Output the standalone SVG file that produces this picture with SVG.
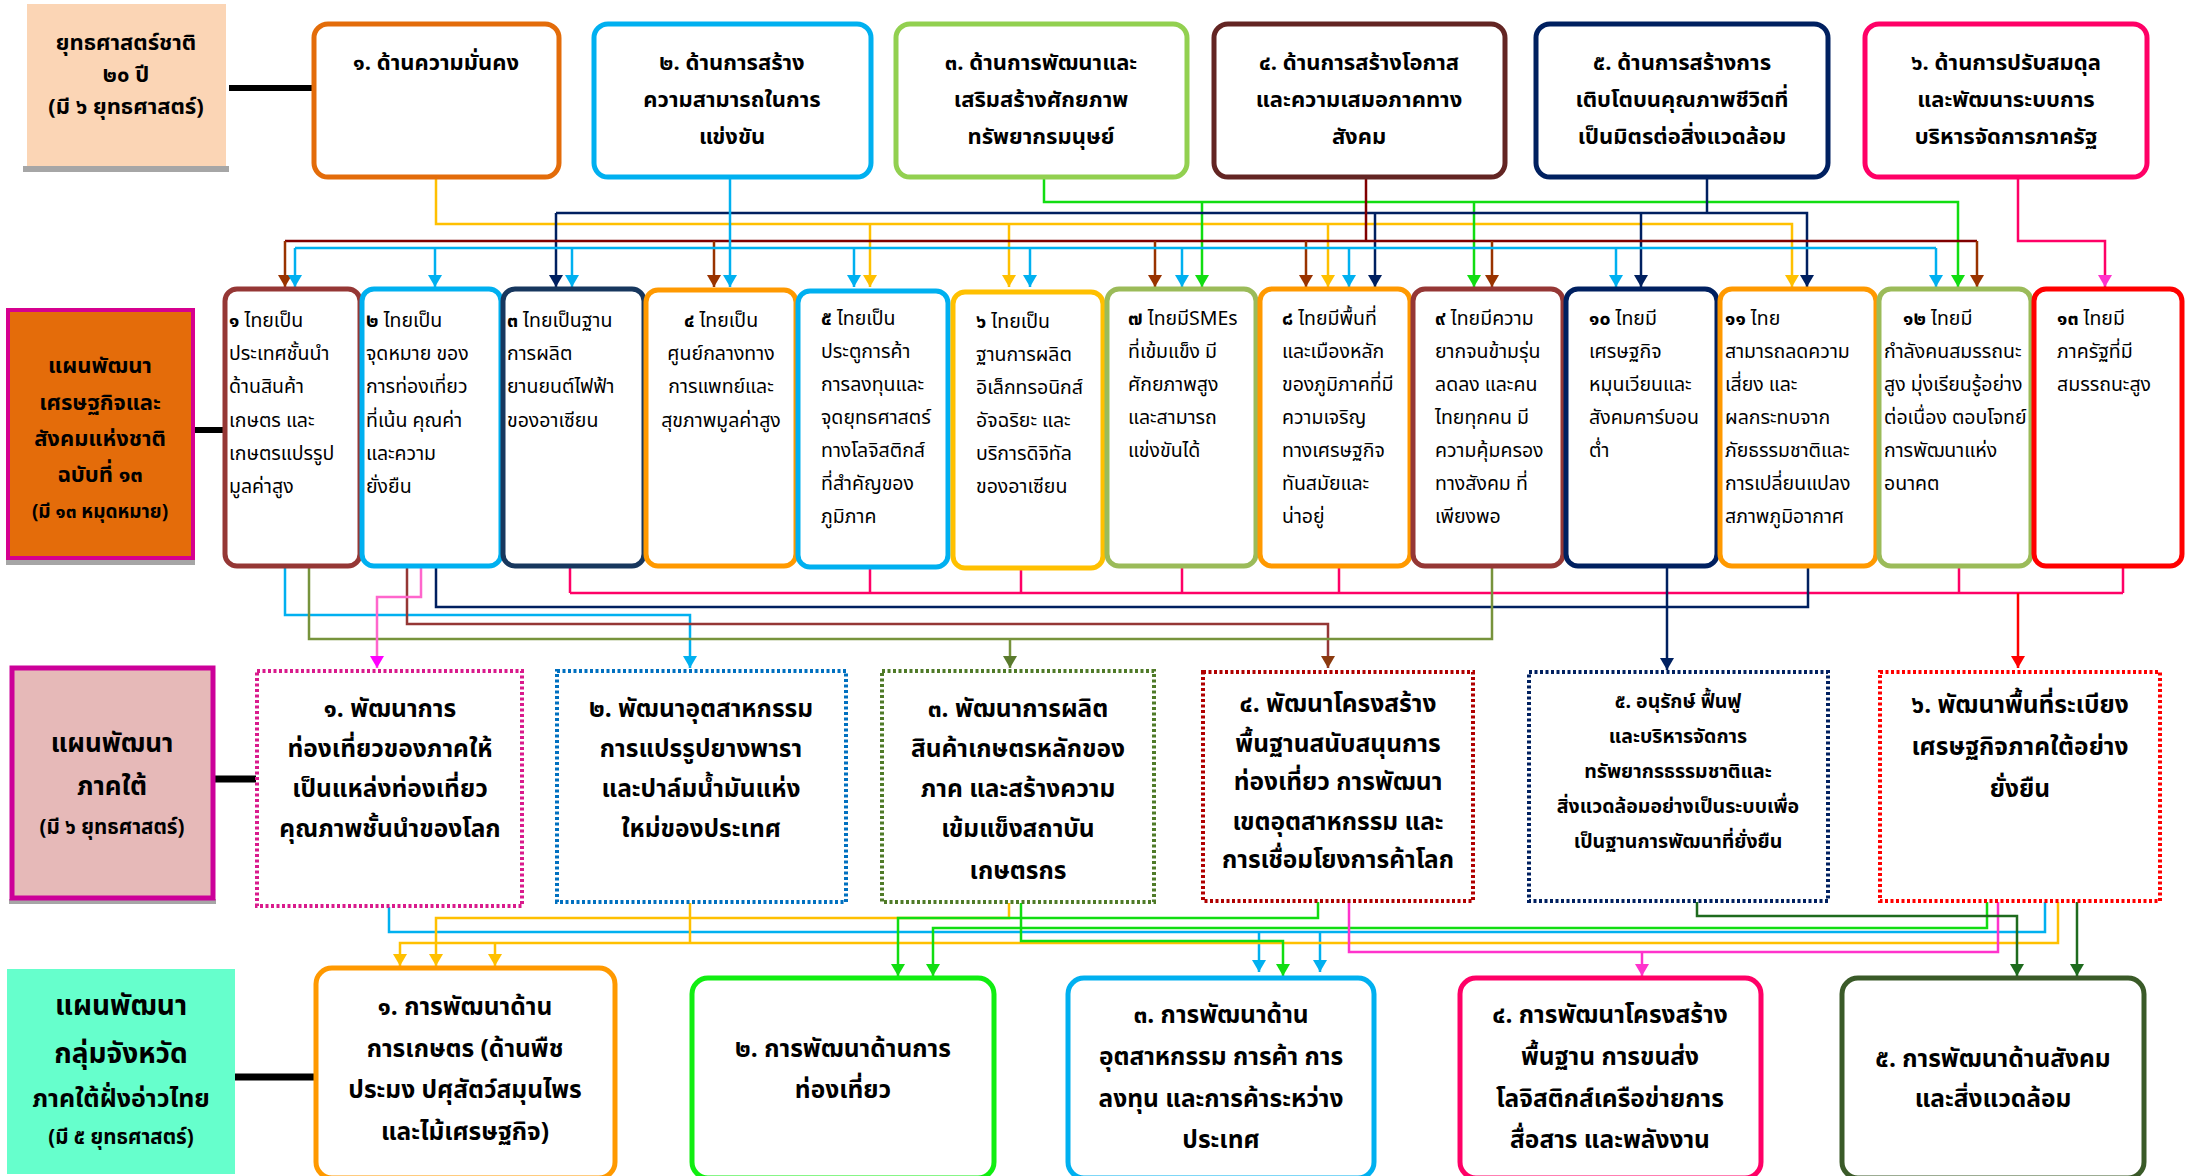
<svg xmlns="http://www.w3.org/2000/svg" width="2185" height="1176" viewBox="0 0 2185 1176">
<defs>
<style>
.f{font-family:'Noto Sans Thai','Noto Sans','DejaVu Sans',sans-serif;fill:#000}
.top{font-size:22px;font-weight:bold;text-anchor:middle}
.lab{font-size:22px;font-weight:bold;text-anchor:middle}
.lab2{font-size:26px;font-weight:bold;text-anchor:middle}
.labs{font-size:19px;font-weight:bold;text-anchor:middle}
.labs2{font-size:20.5px;font-weight:bold;text-anchor:middle}
.mid{font-size:19.5px}
.midc{font-size:19.5px;text-anchor:middle}
.r3{font-size:24.5px;font-weight:bold;text-anchor:middle}
.r3s{font-size:19.5px;font-weight:bold;text-anchor:middle}
.bot{font-size:24.5px;font-weight:bold;text-anchor:middle}
.nb{font-weight:bold}
.box{fill:#fff;stroke-width:5}
.dot{fill:#fff;stroke-width:4;stroke-dasharray:3 2.5}
.c{fill:none;stroke-width:2.5}
</style>
<marker id="aY" viewBox="0 0 12 14" markerWidth="12" markerHeight="14" refX="12" refY="7" orient="auto" markerUnits="userSpaceOnUse"><path d="M0,0L12,7L0,14z" fill="#FFC000"/></marker>
<marker id="aC" viewBox="0 0 12 14" markerWidth="12" markerHeight="14" refX="12" refY="7" orient="auto" markerUnits="userSpaceOnUse"><path d="M0,0L12,7L0,14z" fill="#00B0F0"/></marker>
<marker id="aG" viewBox="0 0 12 14" markerWidth="12" markerHeight="14" refX="12" refY="7" orient="auto" markerUnits="userSpaceOnUse"><path d="M0,0L12,7L0,14z" fill="#11DD11"/></marker>
<marker id="aN" viewBox="0 0 12 14" markerWidth="12" markerHeight="14" refX="12" refY="7" orient="auto" markerUnits="userSpaceOnUse"><path d="M0,0L12,7L0,14z" fill="#002060"/></marker>
<marker id="aB" viewBox="0 0 12 14" markerWidth="12" markerHeight="14" refX="12" refY="7" orient="auto" markerUnits="userSpaceOnUse"><path d="M0,0L12,7L0,14z" fill="#993300"/></marker>
<marker id="aP" viewBox="0 0 12 14" markerWidth="12" markerHeight="14" refX="12" refY="7" orient="auto" markerUnits="userSpaceOnUse"><path d="M0,0L12,7L0,14z" fill="#FF33CC"/></marker>
<marker id="aM" viewBox="0 0 12 14" markerWidth="12" markerHeight="14" refX="12" refY="7" orient="auto" markerUnits="userSpaceOnUse"><path d="M0,0L12,7L0,14z" fill="#FF00FF"/></marker>
<marker id="aO" viewBox="0 0 12 14" markerWidth="12" markerHeight="14" refX="12" refY="7" orient="auto" markerUnits="userSpaceOnUse"><path d="M0,0L12,7L0,14z" fill="#5A7A2E"/></marker>
<marker id="aR" viewBox="0 0 12 14" markerWidth="12" markerHeight="14" refX="12" refY="7" orient="auto" markerUnits="userSpaceOnUse"><path d="M0,0L12,7L0,14z" fill="#FF0000"/></marker>
<marker id="aD" viewBox="0 0 12 14" markerWidth="12" markerHeight="14" refX="12" refY="7" orient="auto" markerUnits="userSpaceOnUse"><path d="M0,0L12,7L0,14z" fill="#1E6B1E"/></marker>
<marker id="aBr" viewBox="0 0 12 14" markerWidth="12" markerHeight="14" refX="12" refY="7" orient="auto" markerUnits="userSpaceOnUse"><path d="M0,0L12,7L0,14z" fill="#8B3A0F"/></marker>
</defs>
<rect width="2185" height="1176" fill="#fff"/>

<!-- connectors -->
<g id="connectors">
<!-- label links -->
<path d="M229,88H314" stroke="#000" stroke-width="6" fill="none"/>
<path d="M195,430H223" stroke="#000" stroke-width="6" fill="none"/>
<path d="M214,779H256" stroke="#000" stroke-width="7" fill="none"/>
<path d="M235,1077H314" stroke="#000" stroke-width="7" fill="none"/>

<!-- top to middle -->
<g class="c" stroke="#FFC000">
<path d="M436,177V224H1792V287" marker-end="url(#aY)"/>
<path d="M870,224V287" marker-end="url(#aY)"/>
<path d="M1009,224V287" marker-end="url(#aY)"/>
<path d="M1328,224V287" marker-end="url(#aY)"/>
</g>
<g class="c" stroke="#11DD11">
<path d="M1044,177V202H1958V287" marker-end="url(#aG)"/>
<path d="M1202,202V287" marker-end="url(#aG)"/>
<path d="M1474,202V287" marker-end="url(#aG)"/>
</g>
<g class="c" stroke="#002060">
<path d="M1707,177V213"/>
<path d="M556,213H1807V287" marker-end="url(#aN)"/>
<path d="M556,213V287" marker-end="url(#aN)"/>
<path d="M1375,213V287" marker-end="url(#aN)"/>
<path d="M1641,213V287" marker-end="url(#aN)"/>
</g>
<g class="c" stroke="#800000">
<path d="M1366,177V241"/>
<path d="M285,241H1977"/>
</g>
<g class="c" stroke="#993300">
<path d="M285,241V287" marker-end="url(#aB)"/>
<path d="M714,241V287" marker-end="url(#aB)"/>
<path d="M1155,241V287" marker-end="url(#aB)"/>
<path d="M1306,241V287" marker-end="url(#aB)"/>
<path d="M1492,241V287" marker-end="url(#aB)"/>
<path d="M1977,241V287" marker-end="url(#aB)"/>
</g>
<g class="c" stroke="#00B0F0">
<path d="M730,177V287" marker-end="url(#aC)"/>
<path d="M295,248H1936"/>
<path d="M295,248V287" marker-end="url(#aC)"/>
<path d="M435,248V287" marker-end="url(#aC)"/>
<path d="M572,248V287" marker-end="url(#aC)"/>
<path d="M854,248V287" marker-end="url(#aC)"/>
<path d="M1030,248V287" marker-end="url(#aC)"/>
<path d="M1182,248V287" marker-end="url(#aC)"/>
<path d="M1349,248V287" marker-end="url(#aC)"/>
<path d="M1616,248V287" marker-end="url(#aC)"/>
<path d="M1936,248V287" marker-end="url(#aC)"/>
</g>
<path class="c" stroke="#FF0066" d="M2018,177V241H2105V287" marker-end="url(#aP)"/>

<!-- middle to third -->
<g class="c" stroke="#FF0066">
<path d="M570,593H2123"/>
<path d="M570,567V593M870,567V593M1021,567V593M1182,567V593M1339,567V593M1959,567V593M2123,567V593"/>
</g>
<path class="c" stroke="#FF0000" d="M2018,593V668" marker-end="url(#aR)"/>
<path class="c" stroke="#002060" d="M436,567V607H1808V567"/>
<path class="c" stroke="#002060" d="M1667,567V670" marker-end="url(#aN)"/>
<path class="c" stroke="#00B0F0" d="M285,567V615H690V668" marker-end="url(#aC)"/>
<path class="c" stroke="#953735" d="M407,567V624H1328V668" marker-end="url(#aBr)"/>
<path class="c" stroke="#77933C" d="M309,567V639H1492V567"/>
<path class="c" stroke="#77933C" d="M1010,639V668" marker-end="url(#aO)"/>
<path class="c" stroke="#FF66CC" d="M421,567V597H377V668" marker-end="url(#aM)"/>

<!-- third to bottom -->
<path class="c" stroke="#00B0F0" d="M389,907V932H2045V902"/>
<path class="c" stroke="#00B0F0" d="M1259,932V972" marker-end="url(#aC)"/>
<path class="c" stroke="#00B0F0" d="M1320,932V972" marker-end="url(#aC)"/>
<path class="c" stroke="#FFC000" d="M1009,903V918H436V966" marker-end="url(#aY)"/>
<path class="c" stroke="#FFC000" d="M690,903V943"/>
<path class="c" stroke="#FFC000" d="M2058,902V943H400V966" marker-end="url(#aY)"/>
<path class="c" stroke="#FFC000" d="M495,943V966" marker-end="url(#aY)"/>
<path class="c" stroke="#11DD11" d="M1318,902V918H898V976" marker-end="url(#aG)"/>
<path class="c" stroke="#11DD11" d="M1987,902V928H933V976" marker-end="url(#aG)"/>
<path class="c" stroke="#11DD11" d="M1021,903V941H1283V976" marker-end="url(#aG)"/>
<path class="c" stroke="#FF33CC" d="M1349,902V952H1998V902"/>
<path class="c" stroke="#FF33CC" d="M1642,952V976" marker-end="url(#aP)"/>
<path class="c" stroke="#1E6B1E" d="M1697,902V916H2017V976" marker-end="url(#aD)"/>
<path class="c" stroke="#1E6B1E" d="M2077,902V976" marker-end="url(#aD)"/>
</g>

<!-- Row 1 -->
<g id="lab-national">
<rect x="23" y="166" width="206" height="6" fill="#A6A6A6"/>
<rect x="27" y="4" width="199" height="162" fill="#FBD5B5"/>
<text class="f lab" x="126" y="50">ยุทธศาสตร์ชาติ</text>
<text class="f lab" x="126" y="82">๒๐ ปี</text>
<text class="f lab" x="126" y="114">(มี ๖ ยุทธศาสตร์)</text>
</g>
<g id="ns1"><rect class="box" x="314" y="24" width="245" height="153" rx="14" stroke="#E36C0A"/>
<text class="f top" x="436" y="70">๑. ด้านความมั่นคง</text></g>
<g id="ns2"><rect class="box" x="594" y="24" width="277" height="153" rx="14" stroke="#00B0F0"/>
<text class="f top" x="732" y="70">๒. ด้านการสร้าง</text><text class="f top" x="732" y="107">ความสามารถในการ</text><text class="f top" x="732" y="144">แข่งขัน</text></g>
<g id="ns3"><rect class="box" x="896" y="24" width="291" height="153" rx="14" stroke="#92D050"/>
<text class="f top" x="1041" y="70">๓. ด้านการพัฒนาและ</text><text class="f top" x="1041" y="107">เสริมสร้างศักยภาพ</text><text class="f top" x="1041" y="144">ทรัพยากรมนุษย์</text></g>
<g id="ns4"><rect class="box" x="1214" y="24" width="291" height="153" rx="14" stroke="#632523"/>
<text class="f top" x="1359" y="70">๔. ด้านการสร้างโอกาส</text><text class="f top" x="1359" y="107">และความเสมอภาคทาง</text><text class="f top" x="1359" y="144">สังคม</text></g>
<g id="ns5"><rect class="box" x="1536" y="24" width="292" height="153" rx="14" stroke="#002060"/>
<text class="f top" x="1682" y="70">๕. ด้านการสร้างการ</text><text class="f top" x="1682" y="107">เติบโตบนคุณภาพชีวิตที่</text><text class="f top" x="1682" y="144">เป็นมิตรต่อสิ่งแวดล้อม</text></g>
<g id="ns6"><rect class="box" x="1865" y="24" width="282" height="153" rx="14" stroke="#FF0066"/>
<text class="f top" x="2006" y="70">๖. ด้านการปรับสมดุล</text><text class="f top" x="2006" y="107">และพัฒนาระบบการ</text><text class="f top" x="2006" y="144">บริหารจัดการภาครัฐ</text></g>

<!-- Row 2 -->
<g id="lab-plan13">
<rect x="6" y="560" width="189" height="5" fill="#A6A6A6"/>
<rect x="8" y="310" width="185" height="248" fill="#E46C0A" stroke="#D6008F" stroke-width="4"/>
<text class="f lab" x="100" y="373">แผนพัฒนา</text>
<text class="f lab" x="100" y="410">เศรษฐกิจและ</text>
<text class="f lab" x="100" y="446">สังคมแห่งชาติ</text>
<text class="f lab" x="100" y="482">ฉบับที่ ๑๓</text>
<text class="f labs" x="100" y="518">(มี ๑๓ หมุดหมาย)</text>
</g>
<g id="m1"><rect class="box" x="225" y="289" width="135" height="277" rx="12" stroke="#953735"/>
<text class="f mid"><tspan x="229" y="327"><tspan class="nb">๑</tspan> ไทยเป็น</tspan><tspan x="229" y="360">ประเทศชั้นนำ</tspan><tspan x="229" y="393">ด้านสินค้า</tspan><tspan x="229" y="427">เกษตร และ</tspan><tspan x="229" y="460">เกษตรแปรรูป</tspan><tspan x="229" y="493">มูลค่าสูง</tspan></text></g>
<g id="m2"><rect class="box" x="362" y="289" width="139" height="277" rx="12" stroke="#00B0F0"/>
<text class="f mid"><tspan x="366" y="327"><tspan class="nb">๒</tspan> ไทยเป็น</tspan><tspan x="366" y="360">จุดหมาย ของ</tspan><tspan x="366" y="393">การท่องเที่ยว</tspan><tspan x="366" y="427">ที่เน้น คุณค่า</tspan><tspan x="366" y="460">และความ</tspan><tspan x="366" y="493">ยั่งยืน</tspan></text></g>
<g id="m3"><rect class="box" x="503" y="289" width="141" height="277" rx="12" stroke="#17375E"/>
<text class="f mid"><tspan x="507" y="327"><tspan class="nb">๓</tspan> ไทยเป็นฐาน</tspan><tspan x="507" y="360">การผลิต</tspan><tspan x="507" y="393">ยานยนต์ไฟฟ้า</tspan><tspan x="507" y="427">ของอาเซียน</tspan></text></g>
<g id="m4"><rect class="box" x="646" y="290" width="150" height="276" rx="12" stroke="#FF9900"/>
<text class="f midc"><tspan x="721" y="327"><tspan class="nb">๔</tspan> ไทยเป็น</tspan><tspan x="721" y="360">ศูนย์กลางทาง</tspan><tspan x="721" y="393">การแพทย์และ</tspan><tspan x="721" y="427">สุขภาพมูลค่าสูง</tspan></text></g>
<g id="m5"><rect class="box" x="798" y="291" width="150" height="276" rx="12" stroke="#00B0F0"/>
<text class="f mid"><tspan x="821" y="325"><tspan class="nb">๕</tspan> ไทยเป็น</tspan><tspan x="821" y="358">ประตูการค้า</tspan><tspan x="821" y="391">การลงทุนและ</tspan><tspan x="821" y="424">จุดยุทธศาสตร์</tspan><tspan x="821" y="457">ทางโลจิสติกส์</tspan><tspan x="821" y="490">ที่สำคัญของ</tspan><tspan x="821" y="523">ภูมิภาค</tspan></text></g>
<g id="m6"><rect class="box" x="953" y="292" width="150" height="276" rx="12" stroke="#FFC000"/>
<text class="f mid"><tspan x="976" y="328"><tspan class="nb">๖</tspan> ไทยเป็น</tspan><tspan x="976" y="361">ฐานการผลิต</tspan><tspan x="976" y="394">อิเล็กทรอนิกส์</tspan><tspan x="976" y="427">อัจฉริยะ และ</tspan><tspan x="976" y="460">บริการดิจิทัล</tspan><tspan x="976" y="493">ของอาเซียน</tspan></text></g>
<g id="m7"><rect class="box" x="1107" y="289" width="149" height="277" rx="12" stroke="#9BBB59"/>
<text class="f mid"><tspan x="1128" y="325"><tspan class="nb">๗</tspan> ไทยมีSMEs</tspan><tspan x="1128" y="358">ที่เข้มแข็ง มี</tspan><tspan x="1128" y="391">ศักยภาพสูง</tspan><tspan x="1128" y="424">และสามารถ</tspan><tspan x="1128" y="457">แข่งขันได้</tspan></text></g>
<g id="m8"><rect class="box" x="1260" y="289" width="150" height="277" rx="12" stroke="#FF9900"/>
<text class="f mid"><tspan x="1282" y="325"><tspan class="nb">๘</tspan>  ไทยมีพื้นที่</tspan><tspan x="1282" y="358">และเมืองหลัก</tspan><tspan x="1282" y="391">ของภูมิภาคที่มี</tspan><tspan x="1282" y="424">ความเจริญ</tspan><tspan x="1282" y="457">ทางเศรษฐกิจ</tspan><tspan x="1282" y="490">ทันสมัยและ</tspan><tspan x="1282" y="523">น่าอยู่</tspan></text></g>
<g id="m9"><rect class="box" x="1413" y="289" width="150" height="277" rx="12" stroke="#953735"/>
<text class="f mid"><tspan x="1435" y="325"><tspan class="nb">๙</tspan>  ไทยมีความ</tspan><tspan x="1435" y="358">ยากจนข้ามรุ่น</tspan><tspan x="1435" y="391">ลดลง และคน</tspan><tspan x="1435" y="424">ไทยทุกคน มี</tspan><tspan x="1435" y="457">ความคุ้มครอง</tspan><tspan x="1435" y="490">ทางสังคม ที่</tspan><tspan x="1435" y="523">เพียงพอ</tspan></text></g>
<g id="m10"><rect class="box" x="1566" y="289" width="151" height="277" rx="12" stroke="#002060"/>
<text class="f mid"><tspan x="1589" y="325"><tspan class="nb">๑๐</tspan>  ไทยมี</tspan><tspan x="1589" y="358">เศรษฐกิจ</tspan><tspan x="1589" y="391">หมุนเวียนและ</tspan><tspan x="1589" y="424">สังคมคาร์บอน</tspan><tspan x="1589" y="457">ต่ำ</tspan></text></g>
<g id="m11"><rect class="box" x="1720" y="289" width="156" height="277" rx="12" stroke="#FF9900"/>
<text class="f mid"><tspan x="1725" y="325"><tspan class="nb">๑๑</tspan>  ไทย</tspan><tspan x="1725" y="358">สามารถลดความ</tspan><tspan x="1725" y="391">เสี่ยง และ</tspan><tspan x="1725" y="424">ผลกระทบจาก</tspan><tspan x="1725" y="457">ภัยธรรมชาติและ</tspan><tspan x="1725" y="490">การเปลี่ยนแปลง</tspan><tspan x="1725" y="523">สภาพภูมิอากาศ</tspan></text></g>
<g id="m12"><rect class="box" x="1879" y="289" width="152" height="277" rx="12" stroke="#9BBB59"/>
<text class="f mid"><tspan x="1903" y="325"><tspan class="nb">๑๒</tspan>  ไทยมี</tspan><tspan x="1884" y="358">กำลังคนสมรรถนะ</tspan><tspan x="1884" y="391">สูง มุ่งเรียนรู้อย่าง</tspan><tspan x="1884" y="424">ต่อเนื่อง ตอบโจทย์</tspan><tspan x="1884" y="457">การพัฒนาแห่ง</tspan><tspan x="1884" y="490">อนาคต</tspan></text></g>
<g id="m13"><rect class="box" x="2034" y="289" width="148" height="277" rx="12" stroke="#FF0000" stroke-width="6"/>
<text class="f mid"><tspan x="2057" y="325"><tspan class="nb">๑๓</tspan>  ไทยมี</tspan><tspan x="2057" y="358">ภาครัฐที่มี</tspan><tspan x="2057" y="391">สมรรถนะสูง</tspan></text></g>

<!-- Row 3 -->
<g id="lab-south">
<rect x="9" y="899" width="207" height="5" fill="#A6A6A6"/>
<rect x="12" y="668" width="201" height="230" fill="#E6B9B8" stroke="#CC0099" stroke-width="5"/>
<text class="f lab2" x="112" y="752">แผนพัฒนา</text>
<text class="f lab2" x="112" y="795">ภาคใต้</text>
<text class="f labs2" x="112" y="834">(มี ๖ ยุทธศาสตร์)</text>
</g>
<g id="s1"><rect class="dot" x="257" y="671" width="265" height="235" stroke="#D91A8C"/>
<text class="f r3" x="390" y="717">๑. พัฒนาการ</text><text class="f r3" x="390" y="757">ท่องเที่ยวของภาคให้</text><text class="f r3" x="390" y="797">เป็นแหล่งท่องเที่ยว</text><text class="f r3" x="390" y="837">คุณภาพชั้นนำของโลก</text></g>
<g id="s2"><rect class="dot" x="557" y="671" width="289" height="231" stroke="#0070C0"/>
<text class="f r3" x="701" y="717">๒. พัฒนาอุตสาหกรรม</text><text class="f r3" x="701" y="757">การแปรรูปยางพารา</text><text class="f r3" x="701" y="797">และปาล์มน้ำมันแห่ง</text><text class="f r3" x="701" y="837">ใหม่ของประเทศ</text></g>
<g id="s3"><rect class="dot" x="882" y="671" width="272" height="231" stroke="#4F7A28"/>
<text class="f r3" x="1018" y="717">๓. พัฒนาการผลิต</text><text class="f r3" x="1018" y="757">สินค้าเกษตรหลักของ</text><text class="f r3" x="1018" y="797">ภาค  และสร้างความ</text><text class="f r3" x="1018" y="837">เข้มแข็งสถาบัน</text><text class="f r3" x="1018" y="879">เกษตรกร</text></g>
<g id="s4"><rect class="dot" x="1203" y="672" width="270" height="229" stroke="#B00000"/>
<text class="f r3" x="1338" y="712">๔. พัฒนาโครงสร้าง</text><text class="f r3" x="1338" y="752">พื้นฐานสนับสนุนการ</text><text class="f r3" x="1338" y="790">ท่องเที่ยว  การพัฒนา</text><text class="f r3" x="1338" y="830">เขตอุตสาหกรรม  และ</text><text class="f r3" x="1338" y="868">การเชื่อมโยงการค้าโลก</text></g>
<g id="s5"><rect class="dot" x="1529" y="672" width="299" height="229" stroke="#002060"/>
<text class="f r3s" x="1678" y="708">๕. อนุรักษ์  ฟื้นฟู</text><text class="f r3s" x="1678" y="743">และบริหารจัดการ</text><text class="f r3s" x="1678" y="778">ทรัพยากรธรรมชาติและ</text><text class="f r3s" x="1678" y="813">สิ่งแวดล้อมอย่างเป็นระบบเพื่อ</text><text class="f r3s" x="1678" y="848">เป็นฐานการพัฒนาที่ยั่งยืน</text></g>
<g id="s6"><rect class="dot" x="1880" y="672" width="280" height="229" stroke="#FF0000"/>
<text class="f r3" x="2020" y="713">๖. พัฒนาพื้นที่ระเบียง</text><text class="f r3" x="2020" y="755">เศรษฐกิจภาคใต้อย่าง</text><text class="f r3" x="2020" y="797">ยั่งยืน</text></g>

<!-- Row 4 -->
<g id="lab-gulf">
<rect x="7" y="969" width="228" height="205" fill="#66FFCC"/>
<text class="f" style="font-size:28px;font-weight:bold;text-anchor:middle" x="121" y="1015">แผนพัฒนา</text>
<text class="f" style="font-size:28px;font-weight:bold;text-anchor:middle" x="121" y="1063">กลุ่มจังหวัด</text>
<text class="f" style="font-size:25px;font-weight:bold;text-anchor:middle" x="121" y="1107">ภาคใต้ฝั่งอ่าวไทย</text>
<text class="f labs2" x="121" y="1144">(มี ๕ ยุทธศาสตร์)</text>
</g>
<g id="g1"><rect class="box" x="316" y="968" width="299" height="210" rx="16" stroke="#FF9900"/>
<text class="f bot" x="465" y="1015">๑. การพัฒนาด้าน</text><text class="f bot" x="465" y="1057">การเกษตร (ด้านพืช</text><text class="f bot" x="465" y="1098">ประมง ปศุสัตว์สมุนไพร</text><text class="f bot" x="465" y="1140">และไม้เศรษฐกิจ)</text></g>
<g id="g2"><rect class="box" x="692" y="978" width="302" height="200" rx="16" stroke="#11EE11"/>
<text class="f bot" x="843" y="1057">๒. การพัฒนาด้านการ</text><text class="f bot" x="843" y="1098">ท่องเที่ยว</text></g>
<g id="g3"><rect class="box" x="1068" y="978" width="306" height="200" rx="16" stroke="#00B0F0"/>
<text class="f bot" x="1221" y="1023">๓. การพัฒนาด้าน</text><text class="f bot" x="1221" y="1065">อุตสาหกรรม การค้า การ</text><text class="f bot" x="1221" y="1107">ลงทุน และการค้าระหว่าง</text><text class="f bot" x="1221" y="1148">ประเทศ</text></g>
<g id="g4"><rect class="box" x="1460" y="978" width="301" height="200" rx="16" stroke="#FF0066"/>
<text class="f bot" x="1610" y="1023">๔. การพัฒนาโครงสร้าง</text><text class="f bot" x="1610" y="1065">พื้นฐาน การขนส่ง</text><text class="f bot" x="1610" y="1107">โลจิสติกส์เครือข่ายการ</text><text class="f bot" x="1610" y="1148">สื่อสาร และพลังงาน</text></g>
<g id="g5"><rect class="box" x="1842" y="978" width="302" height="200" rx="16" stroke="#3A5A28"/>
<text class="f bot" x="1993" y="1067">๕. การพัฒนาด้านสังคม</text><text class="f bot" x="1993" y="1107">และสิ่งแวดล้อม</text></g>
</svg>
